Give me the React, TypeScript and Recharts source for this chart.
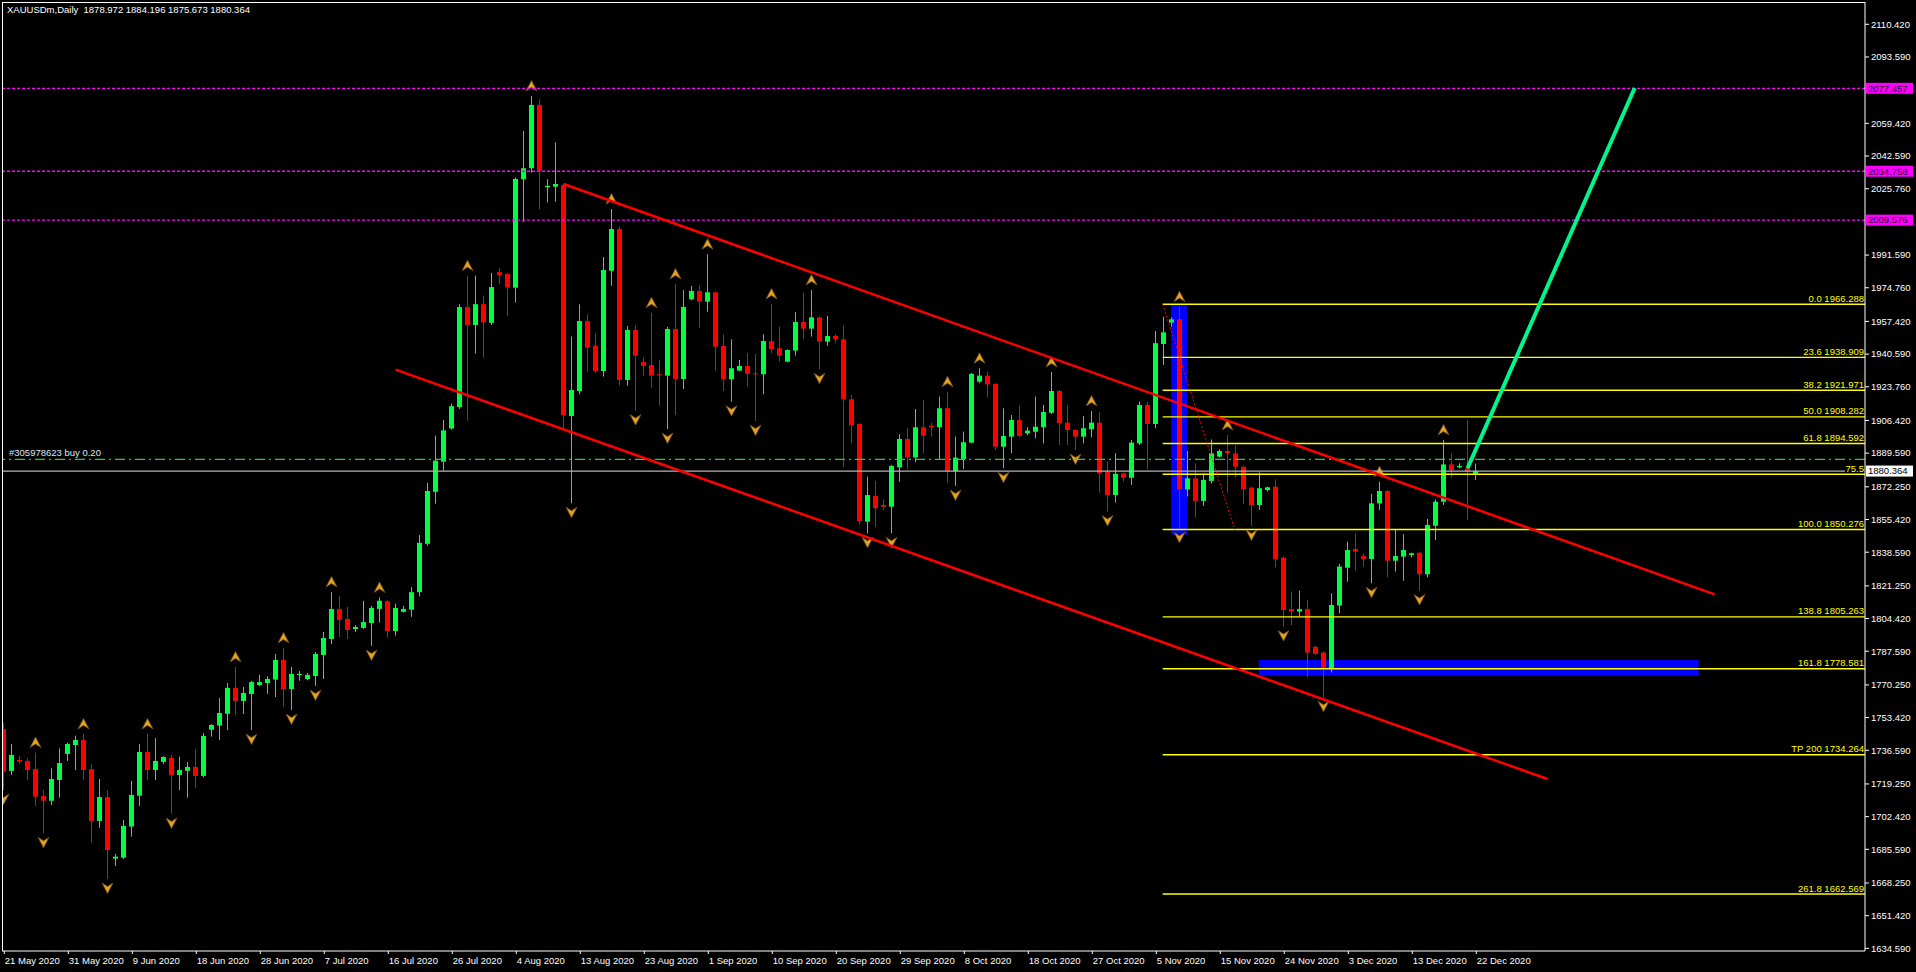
import React from 'react';
import { ComposedChart, Bar, XAxis, YAxis, ReferenceLine, ReferenceArea } from 'recharts';

const FONT = '"Liberation Sans", Arial, sans-serif';
const BULL = '#00FF40';
const BEAR = '#FF0000';

// Daily XAUUSDm bars, 21 May 2020 .. 22 Dec 2020 (broker with Sunday bars)
const opens = [
  1747.5, 1726.0, 1731.6, 1731.1, 1726.9, 1713.0, 1710.6, 1721.3, 1734.7, 1739.3,
  1741.9, 1726.9, 1700.2, 1712.5, 1680.8, 1681.3, 1697.3, 1713.2, 1735.7, 1726.4,
  1730.6, 1732.6, 1723.9, 1726.0, 1728.0, 1723.4, 1747.2, 1749.3, 1755.4, 1768.7,
  1762.0, 1765.6, 1770.2, 1771.2, 1773.0, 1783.1, 1768.1, 1775.4, 1773.3, 1774.8,
  1785.7, 1793.9, 1809.3, 1804.2, 1799.0, 1799.6, 1802.1, 1809.4, 1813.4, 1798.0,
  1807.9, 1809.0, 1818.0, 1842.9, 1869.7, 1885.2, 1902.3, 1913.3, 1964.8, 1955.6,
  1966.3, 1956.7, 1982.8, 1981.9, 1974.8, 2030.6, 2036.3, 2068.9, 2026.5, 2026.8,
  2027.7, 1908.7, 1921.6, 1957.6, 1944.9, 1931.9, 1983.5, 2005.0, 1927.3, 1953.0,
  1936.5, 1935.0, 1930.2, 1929.5, 1953.5, 1927.8, 1968.8, 1973.1, 1967.6, 1972.4,
  1944.8, 1927.6, 1932.1, 1934.5, 1930.7, 1930.2, 1947.3, 1943.6, 1936.7, 1942.4,
  1957.1, 1953.7, 1959.5, 1947.0, 1949.9, 1948.2, 1917.3, 1904.6, 1854.3, 1867.5,
  1862.9, 1862.0, 1882.3, 1896.9, 1887.4, 1902.9, 1903.7, 1902.9, 1912.7, 1880.4,
  1886.6, 1895.0, 1926.4, 1929.5, 1925.2, 1892.9, 1898.1, 1906.7, 1899.8, 1900.6,
  1902.9, 1910.4, 1921.6, 1905.3, 1901.5, 1898.1, 1901.9, 1905.3, 1880.1, 1868.0,
  1879.2, 1876.9, 1894.6, 1914.4, 1904.6, 1945.8, 1956.8, 1958.5, 1870.9, 1876.6,
  1865.0, 1875.3, 1887.8, 1890.7, 1889.5, 1882.6, 1871.8, 1862.9, 1870.6, 1872.3,
  1835.8, 1809.3, 1808.0, 1809.3, 1789.9, 1786.9, 1778.8, 1811.1, 1830.6, 1840.2,
  1836.6, 1835.1, 1863.7, 1870.1, 1834.2, 1836.3, 1837.1, 1838.3, 1827.2, 1852.2,
  1864.6, 1883.8, 1882.3, 1881.8, 1878.972,
];
const highs = [
  1750.5, 1739.8, 1733.6, 1732.5, 1735.4, 1716.1, 1727.3, 1737.6, 1740.5, 1744.1,
  1745.0, 1729.5, 1721.8, 1716.1, 1683.2, 1700.7, 1720.8, 1739.8, 1745.0, 1742.9,
  1733.6, 1734.2, 1733.3, 1730.6, 1737.2, 1745.5, 1750.1, 1763.5, 1771.2, 1779.5,
  1769.2, 1772.3, 1775.4, 1774.8, 1786.2, 1789.3, 1779.5, 1777.4, 1776.4, 1787.2,
  1797.5, 1818.1, 1816.0, 1810.4, 1801.1, 1813.5, 1810.9, 1815.3, 1813.9, 1812.1,
  1810.9, 1820.6, 1847.4, 1874.3, 1898.6, 1906.7, 1915.1, 1966.3, 1981.0, 1981.0,
  1970.7, 1982.4, 1985.0, 1982.2, 2031.5, 2055.5, 2073.5, 2071.8, 2030.6, 2049.6,
  2028.3, 1949.6, 1966.2, 1961.1, 1951.3, 1990.6, 2015.3, 2006.2, 1955.1, 1955.6,
  1938.8, 1961.9, 1937.6, 1954.7, 1976.7, 1973.6, 1975.7, 1976.0, 1992.0, 1972.9,
  1950.8, 1948.2, 1937.6, 1941.0, 1940.7, 1950.8, 1966.4, 1954.7, 1943.0, 1962.3,
  1972.2, 1973.6, 1959.9, 1960.2, 1950.8, 1955.2, 1919.5, 1904.9, 1877.5, 1875.3,
  1865.8, 1883.5, 1899.4, 1902.7, 1912.3, 1916.9, 1905.3, 1918.7, 1921.2, 1898.1,
  1900.7, 1930.9, 1933.3, 1931.5, 1925.6, 1912.7, 1909.2, 1913.9, 1902.9, 1918.7,
  1914.4, 1931.4, 1922.1, 1914.4, 1901.9, 1908.7, 1911.3, 1910.6, 1885.2, 1889.5,
  1879.6, 1896.4, 1916.1, 1916.1, 1952.5, 1959.9, 1959.5, 1965.0, 1890.7, 1884.3,
  1879.2, 1896.7, 1891.6, 1898.9, 1893.6, 1883.0, 1872.3, 1879.7, 1872.3, 1876.1,
  1836.3, 1818.3, 1818.8, 1814.0, 1790.3, 1787.4, 1817.4, 1832.5, 1844.0, 1848.3,
  1838.0, 1868.6, 1874.9, 1870.5, 1850.0, 1847.9, 1838.3, 1838.9, 1855.7, 1865.8,
  1896.4, 1889.5, 1884.4, 1906.7, 1884.196,
];
const lows = [
  1716.1, 1723.9, 1729.5, 1721.3, 1707.9, 1693.8, 1708.4, 1712.2, 1731.1, 1726.4,
  1721.3, 1689.0, 1696.7, 1670.3, 1677.0, 1680.6, 1692.1, 1707.9, 1721.3, 1721.3,
  1729.5, 1703.8, 1716.1, 1712.2, 1717.2, 1722.7, 1743.6, 1741.9, 1747.0, 1754.8,
  1755.3, 1747.0, 1769.7, 1765.6, 1764.0, 1758.9, 1757.3, 1772.4, 1772.8, 1769.7,
  1773.3, 1791.3, 1794.9, 1793.9, 1797.5, 1799.1, 1790.3, 1802.4, 1794.7, 1795.6,
  1807.5, 1805.3, 1815.8, 1841.9, 1863.6, 1880.6, 1901.7, 1912.4, 1906.3, 1940.9,
  1938.7, 1955.6, 1976.7, 1960.2, 1967.1, 2008.8, 2034.0, 2015.1, 2018.6, 2019.1,
  1902.4, 1863.8, 1919.9, 1931.6, 1931.0, 1929.0, 1975.8, 1924.3, 1924.3, 1911.5,
  1929.5, 1923.3, 1914.0, 1902.0, 1909.2, 1922.6, 1968.4, 1954.2, 1962.4, 1932.1,
  1921.6, 1916.1, 1931.8, 1923.8, 1906.1, 1919.9, 1941.0, 1936.7, 1936.4, 1939.8,
  1948.2, 1949.6, 1932.8, 1944.8, 1946.1, 1882.3, 1894.6, 1852.9, 1848.3, 1851.7,
  1860.3, 1848.3, 1874.9, 1881.4, 1884.9, 1889.5, 1898.1, 1886.6, 1874.4, 1872.7,
  1881.4, 1894.6, 1925.6, 1918.3, 1891.2, 1881.8, 1889.5, 1897.7, 1898.8, 1897.2,
  1894.6, 1909.8, 1893.8, 1893.8, 1891.2, 1894.6, 1897.7, 1869.2, 1859.5, 1864.1,
  1874.9, 1873.2, 1893.8, 1881.3, 1902.4, 1935.0, 1954.7, 1850.9, 1867.2, 1856.4,
  1862.4, 1874.0, 1887.4, 1869.2, 1877.0, 1863.4, 1852.1, 1860.3, 1869.8, 1830.8,
  1800.3, 1801.1, 1805.7, 1774.2, 1785.7, 1763.9, 1776.6, 1807.1, 1823.4, 1829.1,
  1831.1, 1822.6, 1860.3, 1825.6, 1828.6, 1823.9, 1835.9, 1818.8, 1825.6, 1844.9,
  1862.9, 1876.9, 1881.8, 1855.2, 1875.673,
];
const closes = [
  1725.6, 1734.2, 1730.7, 1726.4, 1712.7, 1710.6, 1721.8, 1730.0, 1739.8, 1741.9,
  1726.4, 1700.2, 1712.5, 1685.2, 1681.8, 1697.6, 1713.6, 1735.7, 1726.4, 1731.1,
  1733.1, 1723.9, 1726.4, 1728.0, 1723.4, 1744.0, 1749.6, 1755.8, 1768.7, 1762.0,
  1766.1, 1771.7, 1771.7, 1773.3, 1783.1, 1768.1, 1775.9, 1775.9, 1775.4, 1786.2,
  1794.4, 1809.3, 1803.7, 1798.5, 1800.1, 1802.6, 1809.9, 1813.6, 1798.0, 1809.9,
  1809.4, 1818.0, 1843.4, 1870.1, 1885.7, 1901.3, 1913.8, 1964.8, 1955.6, 1966.3,
  1956.9, 1975.1, 1981.3, 1974.9, 2030.8, 2036.3, 2068.9, 2035.1, 2027.2, 2028.2,
  1909.1, 1922.1, 1957.6, 1943.9, 1931.9, 1983.9, 2005.0, 1927.3, 1953.0, 1939.8,
  1934.5, 1929.5, 1929.8, 1953.5, 1927.8, 1964.9, 1973.1, 1967.6, 1972.4, 1944.4,
  1927.6, 1933.3, 1934.5, 1930.4, 1930.2, 1947.3, 1943.2, 1939.8, 1942.7, 1957.1,
  1953.7, 1959.5, 1947.0, 1949.9, 1948.2, 1917.3, 1904.1, 1854.6, 1868.0, 1861.2,
  1862.0, 1883.0, 1896.9, 1887.4, 1902.9, 1898.6, 1902.9, 1912.7, 1880.4, 1887.3,
  1895.2, 1930.4, 1929.5, 1925.0, 1892.9, 1898.4, 1906.7, 1898.4, 1901.2, 1903.2,
  1910.8, 1921.6, 1905.0, 1901.5, 1898.1, 1902.4, 1905.3, 1879.2, 1868.0, 1878.9,
  1876.9, 1895.0, 1914.4, 1904.6, 1946.2, 1951.8, 1958.5, 1870.9, 1876.6, 1865.0,
  1875.8, 1889.5, 1890.7, 1889.5, 1882.6, 1871.1, 1862.9, 1871.5, 1872.0, 1834.9,
  1808.8, 1808.0, 1809.3, 1786.9, 1786.2, 1778.8, 1811.4, 1831.2, 1839.7, 1838.9,
  1835.1, 1863.7, 1870.1, 1834.2, 1836.6, 1839.7, 1838.0, 1827.2, 1852.6, 1864.6,
  1883.8, 1880.9, 1883.0, 1880.1, 1880.364,
];

// bar indices carrying fractal arrows
const fractalUp = [4, 10, 18, 29, 35, 41, 47, 58, 66, 76, 81, 84, 88, 96, 101, 118, 122, 131, 136, 147, 153, 172, 180];
const fractalDown = [0, 5, 13, 21, 31, 36, 39, 46, 71, 79, 83, 91, 94, 102, 108, 111, 119, 125, 134, 138, 147, 156, 160, 165, 171, 177];

// x-axis date labels, one every 8 bars
const dateLabels = [
  '21 May 2020', '31 May 2020', '9 Jun 2020', '18 Jun 2020', '28 Jun 2020', '7 Jul 2020',
  '16 Jul 2020', '26 Jul 2020', '4 Aug 2020', '13 Aug 2020', '23 Aug 2020', '1 Sep 2020',
  '10 Sep 2020', '20 Sep 2020', '29 Sep 2020', '8 Oct 2020', '18 Oct 2020', '27 Oct 2020',
  '5 Nov 2020', '15 Nov 2020', '24 Nov 2020', '3 Dec 2020', '13 Dec 2020', '22 Dec 2020',
];
const dateTickBars = [0, 8, 16, 24, 32, 40, 48, 56, 64, 72, 80, 88, 96, 104, 112, 120, 128, 136, 144, 152, 160, 168, 176, 184];

const priceTicks = [
  2110.42, 2093.59, 2059.42, 2042.59, 2025.76, 1991.59, 1974.76, 1957.42, 1940.59, 1923.76,
  1906.42, 1889.59, 1872.25, 1855.42, 1838.59, 1821.25, 1804.42, 1787.59, 1770.25, 1753.42,
  1736.59, 1719.25, 1702.42, 1685.59, 1668.25, 1651.42, 1634.59,
];

const levelPrices = [2077.457, 2034.758, 2009.576];
const bidPrice = 1880.364;
const orderPrice = 1886.4;
const orderText = '#305978623 buy 0.20';
const titleText = 'XAUUSDm,Daily  1878.972 1884.196 1875.673 1880.364';

const fibNames = ['0.0 1966.288', '23.6 1938.909', '38.2 1921.971', '50.0 1908.282', '61.8 1894.592', '75.5',
  '100.0 1850.276', '138.8 1805.263', '161.8 1778.581', 'TP 200 1734.264', '261.8 1662.569'];
const fibPrices = [1966.288, 1938.909, 1921.971, 1908.282, 1894.592, 1878.7, 1850.276, 1805.263, 1778.581, 1734.264, 1662.569];
const fibStartBar = 144.8;
const fibDiagonal = [{ x: 144.8, y: 1966.288 }, { x: 153.8, y: 1850.276 }];

const upperChannel = [{ x: 69.9, y: 2028.2 }, { x: 213.8, y: 1816.9 }];
const lowerChannel = [{ x: 48.9, y: 1932.6 }, { x: 192.9, y: 1721.8 }];
const targetLine = [{ x: 182.9, y: 1881.8 }, { x: 203.8, y: 2077.6 }];

const blueZoneV = { x1: 145.85, x2: 147.85, y1: 1847.7, y2: 1966.3 };
const blueZoneH = { x1: 156.8, x2: 211.8, y1: 1775.0, y2: 1783.1 };

const X_DOMAIN: [number, number] = [-0.2875, 232.5875];
const Y_DOMAIN: [number, number] = [1633.23, 2121.9];

const data = opens.map((o, i) => ({
  i,
  o,
  h: highs[i],
  l: lows[i],
  c: closes[i],
  fu: fractalUp.includes(i),
  fd: fractalDown.includes(i),
}));

const upArrow = (cx: number, cy: number) =>
  `M${cx},${cy - 5.5} L${cx + 5.5},${cy + 5} L${cx},${cy + 1.5} L${cx - 5.5},${cy + 5} Z`;
const downArrow = (cx: number, cy: number) =>
  `M${cx},${cy + 5.5} L${cx + 5.5},${cy - 5} L${cx},${cy - 1.5} L${cx - 5.5},${cy - 5} Z`;

const CandleShape = (props: any) => {
  const { x, y, width, height, payload } = props;
  if (!payload || x == null || y == null) return null;
  const { o, h, l, c, fu, fd } = payload;
  const top = Math.min(y, y + height);
  const span = Math.abs(height);
  const py = (p: number) => top + ((h - p) / (h - l)) * span;
  const cx = Math.floor(x + width / 2) + 0.5;
  const col = c >= o ? BULL : BEAR;
  const yo = py(o);
  const yc = py(c);
  const bTop = Math.min(yo, yc);
  const bH = Math.max(1, Math.abs(yo - yc));
  return (
    <g>
      <line x1={cx} x2={cx} y1={top} y2={top + span} stroke={col} strokeWidth={1} />
      <rect x={cx - 2.5} y={bTop} width={5} height={bH} fill={col} />
      {fu && <path d={upArrow(cx, top - 10)} fill="#E6A32C" stroke="#6E4C12" strokeWidth={0.8} />}
      {fd && <path d={downArrow(cx, top + span + 9)} fill="#E6A32C" stroke="#6E4C12" strokeWidth={0.8} />}
    </g>
  );
};

const XTick = (props: any) => {
  const { x, y, payload } = props;
  const k = dateTickBars.indexOf(payload.value);
  const label = k >= 0 ? dateLabels[k] : '';
  return (
    <g>
      <text x={x + 0.5} y={y + 7.5} fill="#FFFFFF" fontSize={9.5} fontFamily={FONT} textAnchor="start">
        {label}
      </text>
    </g>
  );
};

const YTick = (props: any) => {
  const { x, y, payload } = props;
  return (
    <text x={x} y={y} dy="0.35em" fill="#FFFFFF" fontSize={9.5} fontFamily={FONT} textAnchor="start">
      {Number(payload.value).toFixed(3)}
    </text>
  );
};

const makeTag = (text: string, bg: string, fg: string) => (props: any) => {
  const vb = props.viewBox || {};
  const right = 1866;
  const yy = vb.y;
  return (
    <g>
      <rect x={right} y={yy - 5.5} width={47} height={11} fill={bg} />
      <text x={right + 2} y={yy} dy="0.35em" fill={fg} fontSize={9.5} fontFamily={FONT}>
        {text}
      </text>
    </g>
  );
};

const makeFibLabel = (text: string) => (props: any) => {
  const vb = props.viewBox || {};
  return (
    <text x={1864} y={vb.y - 2.5} fill="#FFFF00" fontSize={9.5} fontFamily={FONT} textAnchor="end">
      {text}
    </text>
  );
};

const orderLabel = (props: any) => {
  const vb = props.viewBox || {};
  return (
    <text x={9} y={vb.y - 3} fill="#DCE6F5" fontSize={9.5} fontFamily={FONT}>
      {orderText}
    </text>
  );
};

export default function App() {
  return (
    <div style={{ position: 'absolute', left: 0, top: 0, width: 1916, height: 972, background: '#000000', overflow: 'hidden' }}>
      <ComposedChart
        width={1916}
        height={972}
        data={data}
        margin={{ top: 2, right: 0, left: 2, bottom: 0 }}
      >
        <XAxis
          dataKey="i"
          type="number"
          domain={X_DOMAIN}
          allowDataOverflow
          ticks={dateTickBars}
          interval={0}
          height={21}
          tickSize={3}
          tickMargin={2}
          axisLine={{ stroke: '#FFFFFF' }}
          tickLine={{ stroke: '#FFFFFF' }}
          tick={<XTick />}
        />
        <YAxis
          orientation="right"
          type="number"
          domain={Y_DOMAIN}
          allowDataOverflow
          ticks={priceTicks}
          interval={0}
          width={51}
          tickSize={4}
          tickMargin={2}
          axisLine={{ stroke: '#FFFFFF' }}
          tickLine={{ stroke: '#FFFFFF' }}
          tick={<YTick />}
        />
        <ReferenceArea {...blueZoneV} fill="#0000FF" fillOpacity={1} stroke="none" />
        <ReferenceArea {...blueZoneH} fill="#0000FF" fillOpacity={1} stroke="none" />
        <Bar dataKey={(d: any) => [d.l, d.h]} barSize={5} shape={<CandleShape />} isAnimationActive={false} />
        {levelPrices.map((p) => (
          <ReferenceLine
            key={'lv' + p}
            y={p}
            stroke="#FF00FF"
            strokeDasharray="3 2"
            strokeWidth={1.3}
            label={makeTag(p.toFixed(3), '#FF00FF', '#1A0020')}
          />
        ))}
        <ReferenceLine y={orderPrice} stroke="#32CD32" strokeDasharray="10 4 2 4" strokeWidth={1.3} label={orderLabel} />
        <ReferenceLine
          segment={[{ x: X_DOMAIN[0], y: bidPrice }, { x: 230.1, y: bidPrice }]}
          stroke="#B4B4B4"
          strokeWidth={1.2}
        />
        <ReferenceLine y={bidPrice} stroke="none" label={makeTag(bidPrice.toFixed(3), '#FFFFFF', '#000000')} />
        {fibPrices.map((p, k) => (
          <ReferenceLine
            key={'fib' + k}
            segment={[{ x: fibStartBar, y: p }, { x: X_DOMAIN[1], y: p }]}
            stroke="#FFFF00"
            strokeWidth={1.4}
            label={makeFibLabel(fibNames[k])}
          />
        ))}
        <ReferenceLine segment={fibDiagonal} stroke="#FF0000" strokeDasharray="2 2" strokeWidth={1} />
        <ReferenceLine segment={upperChannel} stroke="#FF0000" strokeWidth={2.5} />
        <ReferenceLine segment={lowerChannel} stroke="#FF0000" strokeWidth={2.5} />
        <ReferenceLine segment={targetLine} stroke="#00F58C" strokeWidth={4} />
      </ComposedChart>
      <div style={{ position: 'absolute', left: 2, top: 2, width: 1863, height: 1, background: '#FFFFFF' }} />
      <div style={{ position: 'absolute', left: 2, top: 2, width: 1, height: 949, background: '#FFFFFF' }} />
      <div
        style={{
          position: 'absolute',
          left: 7,
          top: 4,
          color: '#FFFFFF',
          fontFamily: FONT,
          fontSize: 9.5,
          whiteSpace: 'pre',
          lineHeight: '12px',
        }}
      >
        {titleText}
      </div>
    </div>
  );
}
